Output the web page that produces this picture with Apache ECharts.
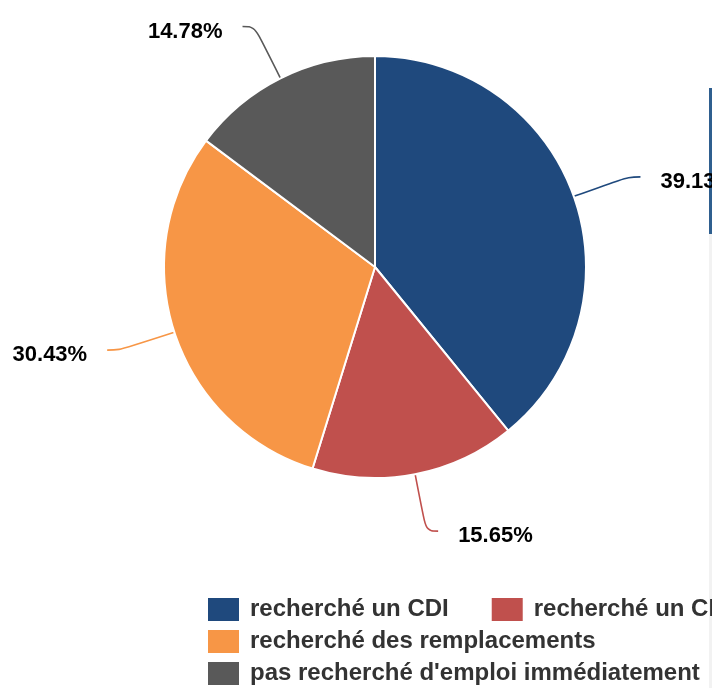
<!DOCTYPE html>
<html>
<head>
<meta charset="utf-8">
<script src="https://cdn.jsdelivr.net/npm/echarts@6/dist/echarts.min.js"></script>
<style>
  html, body { margin: 0; padding: 0; overflow: hidden; background: #fff; }
  #chart { width: 820px; height: 688px; }
</style>
</head>
<body>
<div id="chart"></div>
<script>
// counts out of 230 answers -> 39.13 / 15.65 / 30.43 / 14.78 %
const categories = [
  'recherché un CDI',
  'recherché un CDD',
  'recherché des remplacements',
  "pas recherché d'emploi immédiatement"
];
const counts = [90, 36, 70, 34];
const colors = ['#1F497D', '#C0504D', '#F79646', '#595959'];

const total = counts.reduce((a, b) => a + b, 0);
const seriesData = categories.map((name, i) => ({
  name: name,
  value: counts[i],
  itemStyle: { color: colors[i] },
  labelLine: { lineStyle: { color: colors[i] } }
}));

function legendRow(names, top) {
  return {
    data: names,
    left: 206,
    top: top,
    padding: 0,
    orient: 'horizontal',
    icon: 'rect',
    itemWidth: 33,
    itemHeight: 25,
    itemGap: 41,
    selectedMode: false,
    textStyle: {
      fontFamily: 'Liberation Sans',
      fontSize: 24,
      fontWeight: 'bold',
      color: '#333',
      padding: [0, 0, 0, 5]
    }
  };
}

const chart = echarts.init(document.getElementById('chart'));
chart.setOption({
  animation: false,
  color: colors,
  legend: [
    legendRow([categories[0], categories[1]], 596),
    legendRow([categories[2]], 628),
    legendRow([categories[3]], 660)
  ],
  graphic: [
    { type: 'rect', shape: { x: 709, y: 88, width: 3, height: 146 }, style: { fill: '#2F5F8F' } },
    { type: 'rect', shape: { x: 709, y: 234, width: 3, height: 454 }, style: { fill: '#F2F2F2' } }
  ],
  series: [{
    type: 'pie',
    center: [375, 267],
    radius: 211,
    startAngle: 90,
    clockwise: true,
    avoidLabelOverlap: false,
    itemStyle: { borderColor: '#fff', borderWidth: 2 },
    label: {
      show: true,
      position: 'outside',
      distanceToLabelLine: 20,
      formatter: function (p) {
        return '{v|' + (p.value / total * 100).toFixed(2) + '%}';
      },
      rich: {
        v: {
          fontFamily: 'Liberation Sans',
          fontSize: 22,
          fontWeight: 'bold',
          color: '#000',
          padding: [10, 0, 0, 0]
        }
      }
    },
    labelLine: {
      show: true,
      length: 58,
      length2: 12,
      smooth: 0.4,
      lineStyle: { width: 1.6 }
    },
    data: seriesData
  }]
});
</script>
</body>
</html>
